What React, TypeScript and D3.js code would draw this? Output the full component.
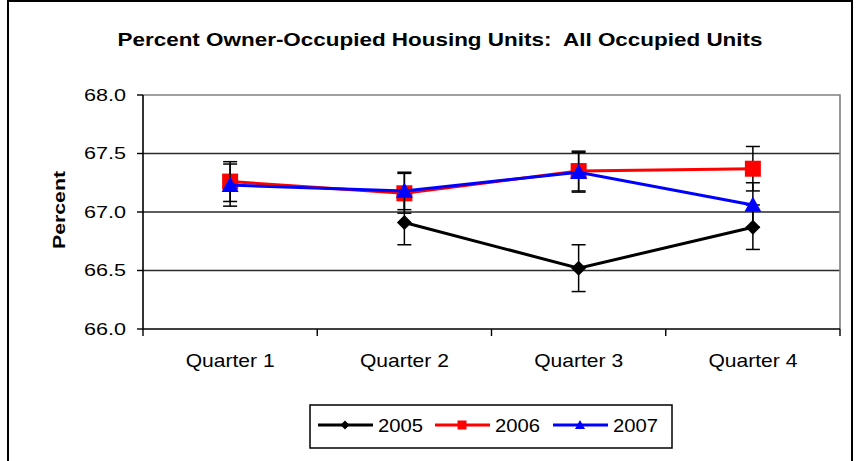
import React, { useRef, useEffect } from "react";
import * as d3 from "d3";

const quarters = ["Quarter 1", "Quarter 2", "Quarter 3", "Quarter 4"];
const yTicks = [66.0, 66.5, 67.0, 67.5, 68.0];

const years = ["2005", "2006", "2007"];
const colors = ["#000000", "#ff0000", "#0000ff"];
const markers = ["diamond", "square", "triangle"];

const values2005 = [null, 66.91, 66.52, 66.87];
const values2006 = [67.26, 67.16, 67.35, 67.37];
const values2007 = [67.23, 67.18, 67.34, 67.06];

const errors2005 = [null, 0.19, 0.2, 0.19];
const errors2006 = [0.17, 0.17, 0.17, 0.19];
const errors2007 = [0.18, 0.16, 0.17, 0.19];

// marker shapes, r = half width
const markerPath = (m: string, r: number) => {
  const p = d3.path();
  if (m === "diamond") {
    p.moveTo(0, -r);
    p.lineTo(r, 0);
    p.lineTo(0, r);
    p.lineTo(-r, 0);
  } else if (m === "square") {
    p.rect(-r, -r, 2 * r, 2 * r);
  } else {
    p.moveTo(0, -r);
    p.lineTo(r, r * 0.8);
    p.lineTo(-r, r * 0.8);
  }
  p.closePath();
  return p.toString();
};

const App = () => {
  const svgRef = useRef<SVGSVGElement>(null);

  useEffect(() => {
    const svg = d3.select(svgRef.current);
    svg.selectAll("*").remove();

    const font = "Arial, 'Liberation Sans', sans-serif";
    const plot = { left: 143, right: 840, top: 95, bottom: 329 };

    // outer frame
    svg
      .append("rect")
      .attr("x", 8)
      .attr("y", 1)
      .attr("width", 844)
      .attr("height", 480)
      .attr("fill", "white")
      .attr("stroke", "black")
      .attr("stroke-width", 2);

    svg
      .append("text")
      .attr("x", 440)
      .attr("y", 46)
      .attr("text-anchor", "middle")
      .attr("font-family", font)
      .attr("font-weight", "bold")
      .attr("font-size", 18)
      .attr("textLength", 645)
      .attr("lengthAdjust", "spacingAndGlyphs")
      .style("white-space", "pre")
      .text("Percent Owner-Occupied Housing Units:  All Occupied Units");

    const x = d3
      .scaleBand()
      .domain(quarters)
      .range([plot.left, plot.right]);

    const y = d3
      .scaleLinear()
      .domain([66, 68])
      .range([plot.bottom, plot.top]);

    // gridlines
    svg
      .append("g")
      .selectAll("line")
      .data(yTicks.filter((t) => t > 66 && t < 68))
      .join("line")
      .attr("x1", plot.left)
      .attr("x2", plot.right)
      .attr("y1", (d) => y(d))
      .attr("y2", (d) => y(d))
      .attr("stroke", "#2a2a2a")
      .attr("stroke-width", 1.6);

    // plot border (top / right grey)
    svg
      .append("path")
      .attr("d", `M${plot.left},${y(68)}H${plot.right}V${plot.bottom}`)
      .attr("fill", "none")
      .attr("stroke", "#808080")
      .attr("stroke-width", 1.6);

    // y axis
    const yAxis = svg.append("g");
    yAxis
      .append("line")
      .attr("x1", plot.left)
      .attr("x2", plot.left)
      .attr("y1", plot.top)
      .attr("y2", plot.bottom)
      .attr("stroke", "black")
      .attr("stroke-width", 1.6);
    yAxis
      .selectAll("line.tick")
      .data(yTicks)
      .join("line")
      .attr("class", "tick")
      .attr("x1", plot.left - 6)
      .attr("x2", plot.left)
      .attr("y1", (d) => y(d))
      .attr("y2", (d) => y(d))
      .attr("stroke", "black")
      .attr("stroke-width", 1.4);
    yAxis
      .selectAll("text")
      .data(yTicks)
      .join("text")
      .attr("x", 126)
      .attr("y", (d) => y(d))
      .attr("dy", "0.35em")
      .attr("text-anchor", "end")
      .attr("font-family", font)
      .attr("font-size", 16.5)
      .attr("textLength", 42)
      .attr("lengthAdjust", "spacingAndGlyphs")
      .text((d) => d.toFixed(1));

    svg
      .append("text")
      .attr("transform", `translate(65,${(plot.top + plot.bottom) / 2 - 2}) rotate(-90)`)
      .attr("text-anchor", "middle")
      .attr("font-family", font)
      .attr("font-weight", "bold")
      .attr("font-size", 17)
      .attr("textLength", 78)
      .attr("lengthAdjust", "spacingAndGlyphs")
      .text("Percent");

    // x axis
    const xAxis = svg.append("g");
    xAxis
      .append("line")
      .attr("x1", plot.left)
      .attr("x2", plot.right)
      .attr("y1", plot.bottom)
      .attr("y2", plot.bottom)
      .attr("stroke", "black")
      .attr("stroke-width", 1.6);
    const bounds = quarters.map((q) => x(q)!).concat([plot.right]);
    xAxis
      .selectAll("line.tick")
      .data(bounds)
      .join("line")
      .attr("class", "tick")
      .attr("x1", (d) => d)
      .attr("x2", (d) => d)
      .attr("y1", plot.bottom)
      .attr("y2", plot.bottom + 7)
      .attr("stroke", "black")
      .attr("stroke-width", 1.4);
    xAxis
      .selectAll("text")
      .data(quarters)
      .join("text")
      .attr("x", (d) => x(d)! + x.bandwidth() / 2)
      .attr("y", 367)
      .attr("text-anchor", "middle")
      .attr("font-family", font)
      .attr("font-size", 19)
      .attr("textLength", 89)
      .attr("lengthAdjust", "spacingAndGlyphs")
      .text((d) => d);

    const allValues = [values2005, values2006, values2007];
    const allErrors = [errors2005, errors2006, errors2007];
    const markerR = [7.5, 8, 8.5];

    allValues.forEach((vals, i) => {
      const pts = quarters.map((q, j) => ({
        q,
        v: vals[j],
        e: allErrors[i][j],
      }));
      const g = svg.append("g");

      const line = d3
        .line<any>()
        .defined((d) => d.v !== null)
        .x((d) => x(d.q)! + x.bandwidth() / 2)
        .y((d) => y(d.v));

      g.append("path")
        .datum(pts)
        .attr("d", line)
        .attr("fill", "none")
        .attr("stroke", colors[i])
        .attr("stroke-width", 3);

      // error bars
      pts
        .filter((d) => d.v !== null)
        .forEach((d) => {
          const cx = x(d.q)! + x.bandwidth() / 2;
          const lo = y(d.v! - d.e!);
          const hi = y(d.v! + d.e!);
          g.append("line")
            .attr("x1", cx)
            .attr("x2", cx)
            .attr("y1", lo)
            .attr("y2", hi)
            .attr("stroke", "black")
            .attr("stroke-width", 1.5);
          [lo, hi].forEach((yy) => {
            g.append("line")
              .attr("x1", cx - 7)
              .attr("x2", cx + 7)
              .attr("y1", yy)
              .attr("y2", yy)
              .attr("stroke", "black")
              .attr("stroke-width", 1.5);
          });
        });

      g.selectAll("path.marker")
        .data(pts.filter((d) => d.v !== null))
        .join("path")
        .attr("class", "marker")
        .attr("transform", (d) => `translate(${x(d.q)! + x.bandwidth() / 2},${y(d.v!)})`)
        .attr("d", markerPath(markers[i], markerR[i]))
        .attr("fill", colors[i]);
    });

    // legend
    const legend = svg.append("g");
    legend
      .append("rect")
      .attr("x", 310)
      .attr("y", 405)
      .attr("width", 362)
      .attr("height", 43)
      .attr("fill", "white")
      .attr("stroke", "black")
      .attr("stroke-width", 1.5);
    const legendX = [318, 435, 553];
    years.forEach((yr, i) => {
      const lx = legendX[i];
      legend
        .append("line")
        .attr("x1", lx)
        .attr("x2", lx + 55)
        .attr("y1", 425)
        .attr("y2", 425)
        .attr("stroke", colors[i])
        .attr("stroke-width", 3);
      legend
        .append("path")
        .attr("transform", `translate(${lx + 27},425)`)
        .attr("d", markerPath(markers[i], [4.5, 4.5, 5][i]))
        .attr("fill", colors[i]);
      legend
        .append("text")
        .attr("x", lx + 60)
        .attr("y", 431.5)
        .attr("font-family", font)
        .attr("font-size", 18)
        .attr("textLength", 45)
        .attr("lengthAdjust", "spacingAndGlyphs")
        .text(yr);
    });
  }, []);

  return (
    <svg
      ref={svgRef}
      width={859}
      height={461}
      style={{ position: "absolute", left: 0, top: 0 }}
    ></svg>
  );
};

export default App;
